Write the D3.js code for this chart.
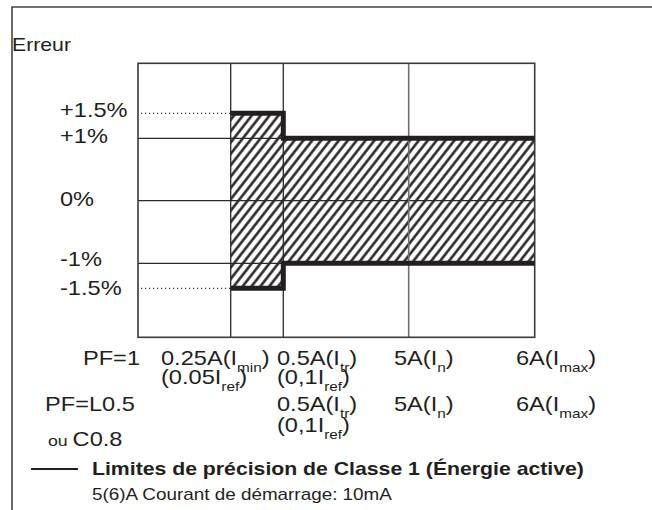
<!DOCTYPE html>
<html><head><meta charset="utf-8">
<script src="https://cdn.jsdelivr.net/npm/d3@7"></script>
<style>
html,body{margin:0;padding:0;background:#fff;}
text{font-family:"Liberation Sans",Arial,sans-serif;fill:#231f20;}
</style></head>
<body>
<svg id="c" width="652" height="510"></svg>
<script>
// ---- data ----
const yTickValues = [1.5, 1, 0, -1, -1.5];
const yTickLabels = ["+1.5%", "+1%", "0%", "-1%", "-1.5%"];
const gridSolid = [1, 0, -1];
const gridDotted = [1.5, -1.5];
const currents = [0.25, 0.5, 5, 6];
const currentMain = ["0.25A(I", "0.5A(I", "5A(I", "6A(I"];
const currentSub = ["min", "tr", "n", "max"];
const refMain = ["(0.05I", "(0,1I", "", ""];
const refSub = ["ref", "ref", "", ""];
const pfLabels = ["PF=1", "PF=L0.5"];
const pf2Shown = [false, true, true, true];
const limitX = [0.25, 0.5, 6];
const upperLimit = [1.5, 1, 1];
const lowerLimit = [-1.5, -1, -1];
const yTitle = "Erreur";
const legendTitle = "Limites de précision de Classe 1 (Énergie active)";
const legendNote = "5(6)A Courant de démarrage: 10mA";

// ---- layout ----
const svg = d3.select("#c");
const plot = {left: 138, right: 534.7, top: 63.3, bottom: 337.3};
// schematic (piecewise) scales, as in the original diagram
const x = d3.scaleLinear().domain([0, 0.25, 0.5, 5, 6]).range([138, 230.7, 283.3, 408.7, 534.7]);
const y = d3.scaleLinear().domain([-1.5, -1, 0, 1, 1.5]).range([288.3, 263.3, 200.7, 138.3, 113.3]);
const ink = "#231f20";
const SX = 1.18; // horizontal stretch of the original lettering

function txt(xp, yp, size, anchor) {
  const g = svg.append("g").attr("transform", `translate(${xp},${yp}) scale(${SX},1)`);
  return g.append("text").attr("x", 0).attr("y", 0).attr("font-size", size)
    .attr("text-anchor", anchor || "start");
}

svg.append("rect").attr("width", 652).attr("height", 510).attr("fill", "#fff");

// outer frame
svg.append("path").attr("d", "M12,510 L12,7 L652,7").attr("fill", "none")
  .attr("stroke", "#444").attr("stroke-width", 1.6);

// hatch pattern
const defs = svg.append("defs");
const pat = defs.append("pattern").attr("id", "hatch").attr("patternUnits", "userSpaceOnUse")
  .attr("width", 7).attr("height", 20).attr("patternTransform", "rotate(38)");
pat.append("line").attr("x1", 3.5).attr("x2", 3.5).attr("y1", -2).attr("y2", 22)
  .attr("stroke", ink).attr("stroke-width", 2.5);

// hatched area
const pts = limitX.map((v, i) => ({x: v, hi: upperLimit[i], lo: lowerLimit[i]}));
svg.append("path").datum(pts)
  .attr("d", d3.area().x(d => x(d.x)).y0(d => y(d.lo)).y1(d => y(d.hi)).curve(d3.curveStepAfter))
  .attr("fill", "url(#hatch)");

// grid
svg.selectAll(".hg").data(gridSolid).join("line")
  .attr("x1", plot.left).attr("x2", plot.right)
  .attr("y1", d => y(d)).attr("y2", d => y(d))
  .attr("stroke", "#2a2a2a").attr("stroke-width", 1.3);
svg.selectAll(".dg").data(gridDotted).join("line")
  .attr("x1", plot.left + 3).attr("x2", x(currents[0]))
  .attr("y1", d => y(d)).attr("y2", d => y(d))
  .attr("stroke", "#333").attr("stroke-width", 1.3).attr("stroke-dasharray", "1.2,2.8");
svg.selectAll(".vg").data(currents.slice(0, 3)).join("line")
  .attr("x1", d => x(d)).attr("x2", d => x(d))
  .attr("y1", plot.top).attr("y2", plot.bottom)
  .attr("stroke", (d, i) => i === 2 ? "#707070" : "#2a2a2a").attr("stroke-width", (d, i) => i === 2 ? 1.6 : 1.3);

// plot frame
svg.append("rect").attr("x", plot.left).attr("y", plot.top)
  .attr("width", plot.right - plot.left).attr("height", plot.bottom - plot.top)
  .attr("fill", "none").attr("stroke", "#3a3a3a").attr("stroke-width", 1.6);

// limit lines
["hi", "lo"].forEach(k => {
  svg.append("path").datum(pts)
    .attr("d", d3.line().x(d => x(d.x)).y(d => y(d[k])).curve(d3.curveStepAfter))
    .attr("fill", "none").attr("stroke", ink).attr("stroke-width", 5);
});

// y labels
const yOff = {"1.5": 4, "1": 5, "0": 5, "-1": 3, "-1.5": 7};
yTickValues.forEach((v, i) => txt(60, y(v) + yOff[String(v)], 20).text(yTickLabels[i]));

txt(12, 51, 18).text(yTitle);

// bottom labels
const labelLeft = [161, 277, 394, 516];
const rowY = [365, 384, 411, 432];
function subLabel(xp, yp, main, sub) {
  const t = txt(xp, yp, 20);
  t.append("tspan").text(main);
  t.append("tspan").attr("font-size", 13).attr("dy", 7).text(sub);
  t.append("tspan").attr("dy", -7).text(")");
}
txt(140, rowY[0], 20, "end").text(pfLabels[0]);
txt(45, rowY[2], 20).text(pfLabels[1]);
const ou = txt(48, 446, 20);
ou.append("tspan").attr("font-size", 15).text("ou ");
ou.append("tspan").attr("font-size", 20).text("C0.8");

currents.forEach((c, i) => {
  subLabel(labelLeft[i], rowY[0], currentMain[i], currentSub[i]);
  if (refMain[i]) subLabel(labelLeft[i], rowY[1], refMain[i], refSub[i]);
  if (pf2Shown[i]) {
    subLabel(labelLeft[i], rowY[2], currentMain[i], currentSub[i]);
    if (refMain[i]) subLabel(labelLeft[i], rowY[3], refMain[i], refSub[i]);
  }
});

// legend
svg.append("line").attr("x1", 31).attr("x2", 78).attr("y1", 469).attr("y2", 469)
  .attr("stroke", ink).attr("stroke-width", 2.2);
txt(92, 475, 18).attr("font-weight", "bold").text(legendTitle);
txt(92, 500, 16).text(legendNote);
</script>
</body></html>
